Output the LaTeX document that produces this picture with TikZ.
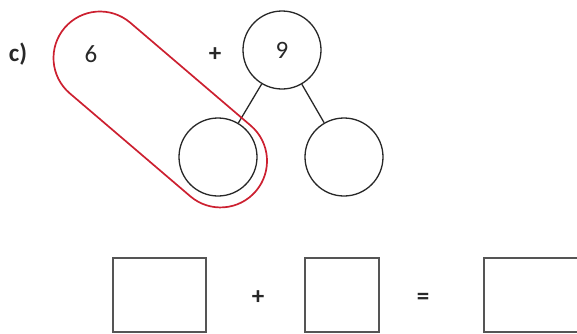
\documentclass[tikz,border=0pt]{standalone}
\usepackage{fontspec}
\setmainfont{Carlito}
\definecolor{ringred}{RGB}{204,32,48}
\definecolor{boxgray}{RGB}{85,85,85}
\definecolor{inkgray}{RGB}{40,40,40}
\begin{document}
\begin{tikzpicture}[x=1pt,y=-1pt,
  numtext/.style={font=\fontsize{25}{27}\selectfont, text=inkgray, inner sep=0pt},
  bondcircle/.style={circle, draw=inkgray, line width=1.3pt, minimum size=78pt, inner sep=0pt,
    font=\fontsize{25}{27}\selectfont, text=inkgray},
  link/.style={draw=inkgray, line width=1.3pt},
  answerbox/.style={draw=boxgray, line width=1.5pt, inner sep=0pt, minimum height=74pt},
  capsule/.style={draw=ringred, line width=1.7pt}
]
\useasboundingbox (0,0) rectangle (577,333);

% labels
\node[numtext, font=\fontsize{25}{27}\selectfont\bfseries] (lbl) at (18,54) {c)};
\node[numtext] (six) at (91,54) {6};
\node[numtext, font=\fontsize{25}{27}\selectfont\bfseries] (plusA) at (215,55) {+};

% number bond
\node[bondcircle] (top) at (282,50) {9};
\node[bondcircle] (bl) at (218,157) {};
\node[bondcircle] (br) at (344,157) {};
\draw[link] (top) -- (bl);
\draw[link] (top) -- (br);

% equation boxes
\node[answerbox, minimum width=93pt] (boxA) at (159.5,295) {};
\node[numtext, font=\fontsize{25}{27}\selectfont\bfseries] (plusB) at (258,298) {+};
\node[answerbox, minimum width=74pt] (boxB) at (342,295) {};
\node[numtext, font=\fontsize{25}{27}\selectfont\bfseries] (eq) at (423,299) {=};
\node[answerbox, minimum width=100pt] (boxC) at (534,295) {};

% red capsule grouping 6 with the left part
\begin{scope}[shift={(100,58)}, rotate=-40.5]
  \draw[capsule] (0pt,46.5pt) arc[start angle=90, end angle=270, radius=46.5pt]
    -- (158.5pt,-46.5pt) arc[start angle=-90, end angle=90, radius=46.5pt] -- cycle;
\end{scope}
\end{tikzpicture}
\end{document}
